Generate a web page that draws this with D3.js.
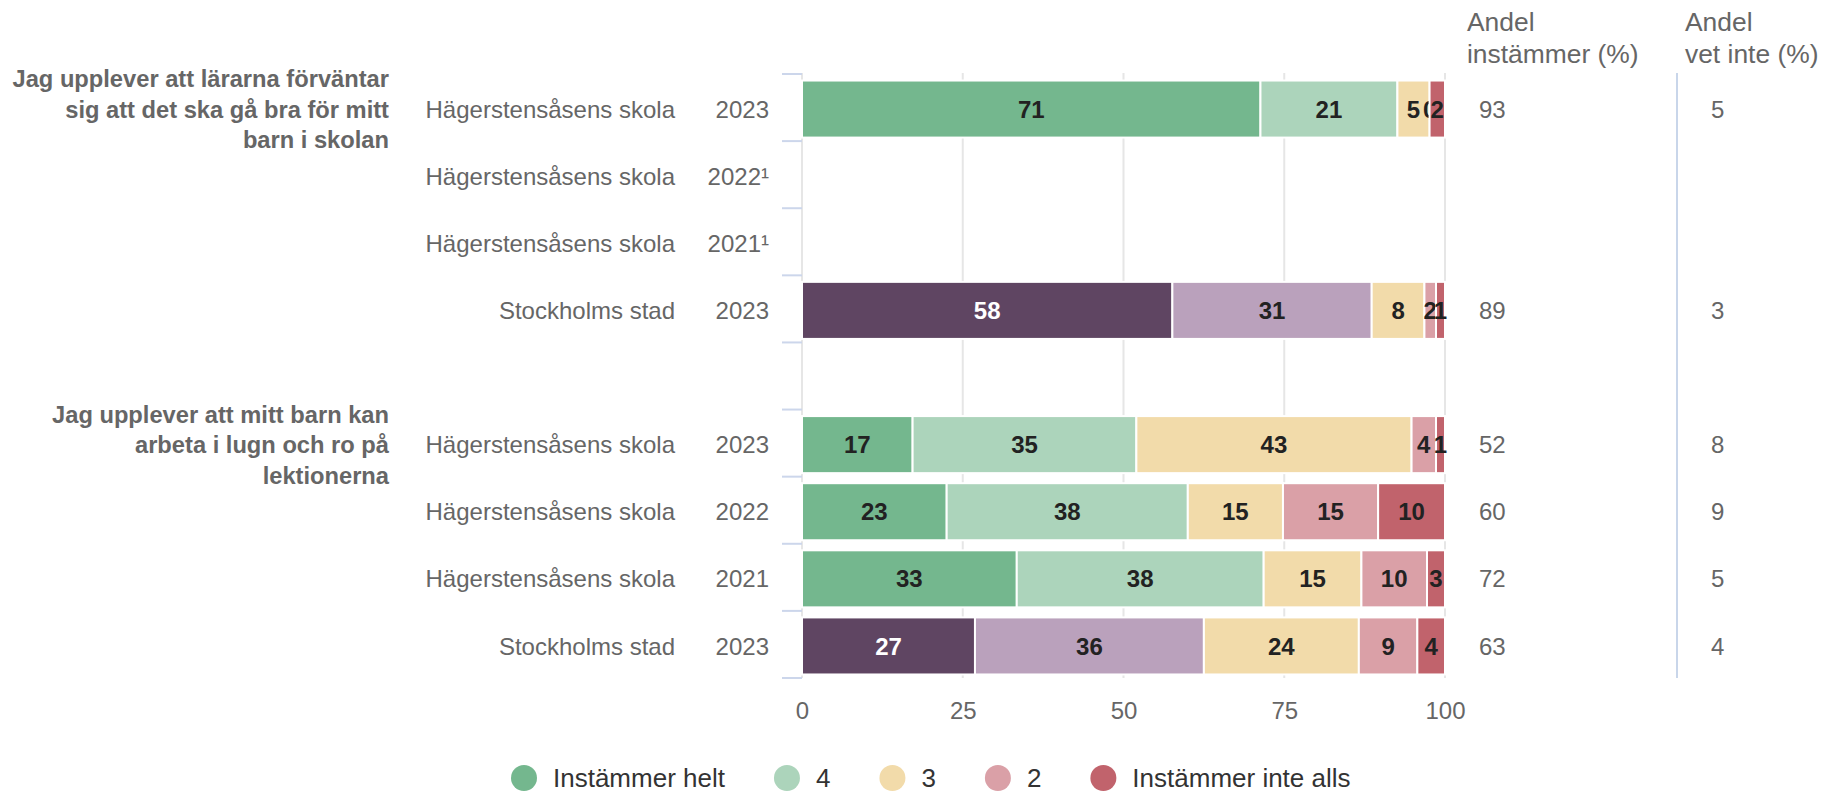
<!DOCTYPE html>
<html><head><meta charset="utf-8">
<script src="https://cdn.jsdelivr.net/npm/d3@7"></script>
<style>
body{margin:0;background:#fff}
svg{display:block}
text{font-family:"Liberation Sans",Arial,Helvetica,sans-serif}
</style>
</head><body>
<svg id="chart" width="1838" height="793"></svg>
<script>
// ---------- DATA ----------
const rowIds = ["q1_h2023","q1_h2022","q1_h2021","q1_sth","gap","q2_h2023","q2_h2022","q2_h2021","q2_sth"];
const unitLabels = ["Hägerstensåsens skola","Hägerstensåsens skola","Hägerstensåsens skola","Stockholms stad","","Hägerstensåsens skola","Hägerstensåsens skola","Hägerstensåsens skola","Stockholms stad"];
const yearLabels = ["2023","2022¹","2021¹","2023","","2023","2022","2021","2023"];
const isCity = [false,false,false,true,false,false,false,false,true];
const seriesNames = ["Instämmer helt","4","3","2","Instämmer inte alls"];
const instammerHelt = [71.3,null,null,57.6,null,17.2,22.5,33.4,26.9];
const svar4 = [21.3,null,null,31.0,null,34.8,37.5,38.4,35.6];
const svar3 = [5.0,null,null,8.2,null,42.8,14.8,15.2,24.1];
const svar2 = [0,null,null,1.8,null,3.8,14.8,10.2,9.1];
const instammerInteAlls = [2.4,null,null,1.4,null,1.4,10.4,2.8,4.3];
const andelInstammer = ["93","","","89","","52","60","72","63"];
const andelVetInte = ["5","","","3","","8","9","5","4"];
const questionRows = ["q1_h2023","q2_h2023"];
const questionLines = [
  ["Jag upplever att lärarna förväntar","sig att det ska gå bra för mitt","barn i skolan"],
  ["Jag upplever att mitt barn kan","arbeta i lugn och ro på","lektionerna"]
];
const xTickValues = [0,25,50,75,100];
const colHeader1 = ["Andel","instämmer (%)"];
const colHeader2 = ["Andel","vet inte (%)"];

// ---------- STYLE ----------
const schoolColors = ["#74b78e","#acd4bb","#f2dbaa","#daa0a7","#c1636c"];
const cityColors   = ["#5f4562","#baa1bc","#f2dbaa","#daa0a7","#c1636c"];
const grey = "#666666";

const svg = d3.select("#chart");
const x = d3.scaleLinear().domain([0,100]).range([802,1445]);
const y = d3.scaleBand().domain(rowIds).range([74,678]).paddingInner(0.15).paddingOuter(0.075);
const step = y.step();
const bandTop = id => y(id) - step*0.075;

// rows data
const seriesArrays = [instammerHelt, svar4, svar3, svar2, instammerInteAlls];
const rows = rowIds.map((id,i)=>{
  const o = {id, i, city:isCity[i]};
  seriesNames.forEach((s,k)=>{ o[s] = seriesArrays[k][i]; });
  return o;
});
const stacked = d3.stack().keys(seriesNames).value((d,k)=> d[k]==null?0:d[k])(rows);

// gridlines
const gTop = 73, gBot = 678;
svg.append("g").selectAll("line").data(xTickValues).join("line")
  .attr("x1",d=>x(d)).attr("x2",d=>x(d)).attr("y1",gTop).attr("y2",gBot)
  .attr("stroke","#e6e6e6").attr("stroke-width",2);

// category ticks (between categories)
const tickYs = rowIds.map(id=>bandTop(id)).concat([bandTop(rowIds[rowIds.length-1])+step]);
svg.append("g").selectAll("line").data(tickYs).join("line")
  .attr("x1",782).attr("x2",802).attr("y1",d=>d).attr("y2",d=>d)
  .attr("stroke","#ccd6eb").attr("stroke-width",2);

// bars
const barOff = 1.5;
const layers = svg.append("g").selectAll("g").data(stacked).join("g");
layers.each(function(layer, k){
  const g = d3.select(this);
  const pts = layer.filter(p=>p.data[seriesNames[k]]!=null);
  g.selectAll("rect").data(pts).join("rect")
    .attr("x",p=>x(p[0])).attr("width",p=>Math.max(0,x(p[1])-x(p[0])))
    .attr("y",p=>y(p.data.id)+barOff).attr("height",y.bandwidth())
    .attr("fill",p=> p.data.city ? cityColors[k] : schoolColors[k])
    .attr("stroke","#fff").attr("stroke-width",2);
});
// data labels
layers.each(function(layer,k){
  const g = d3.select(this);
  const pts = layer.filter(p=>p.data[seriesNames[k]]!=null);
  g.selectAll("text").data(pts).join("text")
    .attr("x",p=>(x(p[0])+x(p[1]))/2)
    .attr("y",p=>y(p.data.id)+barOff+y.bandwidth()/2)
    .attr("dy","0.36em")
    .attr("text-anchor","middle")
    .attr("font-size",24).attr("font-weight","bold")
    .attr("fill",p=> (p.data.city && k===0) ? "#ffffff" : "#222222")
    .text(p=>Math.round(p.data[seriesNames[k]]));
});

// category labels
const rowCenter = id => y(id)+barOff+y.bandwidth()/2;
svg.append("g").selectAll("text").data(rowIds).join("text")
  .attr("x",675).attr("y",d=>rowCenter(d)).attr("dy","0.36em")
  .attr("text-anchor","end").attr("font-size",24).attr("fill",grey)
  .text((d,i)=>unitLabels[i]);
svg.append("g").selectAll("text").data(rowIds).join("text")
  .attr("x",769).attr("y",d=>rowCenter(d)).attr("dy","0.36em")
  .attr("text-anchor","end").attr("font-size",24).attr("fill",grey)
  .text((d,i)=>yearLabels[i]);

// question labels
questionRows.forEach((id,qi)=>{
  const t = svg.append("text").attr("text-anchor","end").attr("font-size",23.7)
    .attr("font-weight","bold").attr("fill",grey);
  const lines = questionLines[qi];
  lines.forEach((ln,li)=>{
    t.append("tspan").attr("x",389)
     .attr("y",rowCenter(id) + (li-(lines.length-1)/2)*30.5)
     .attr("dy","0.36em").text(ln);
  });
});

// x axis
const xAxis = d3.axisBottom(x).tickValues(xTickValues).tickSize(0).tickPadding(0);
const ax = svg.append("g").attr("transform","translate(0,702)").call(xAxis);
ax.select(".domain").remove();
ax.selectAll("text").attr("font-size",24).attr("fill",grey)
  .attr("font-family","'Liberation Sans',Arial,sans-serif").attr("dy","0.71em");

// right columns
svg.append("line").attr("x1",1677).attr("x2",1677).attr("y1",gTop).attr("y2",gBot)
  .attr("stroke","#c9d6ea").attr("stroke-width",2);
[[colHeader1,1467],[colHeader2,1685]].forEach(([lines,hx])=>{
  svg.append("g").selectAll("text").data(lines).join("text")
    .attr("x",hx).attr("y",(d,i)=>31+i*32).attr("font-size",26.4).attr("fill",grey).text(d=>d);
});
svg.append("g").selectAll("text").data(rowIds).join("text")
  .attr("x",1479).attr("y",d=>rowCenter(d)).attr("dy","0.36em")
  .attr("font-size",24).attr("fill",grey).text((d,i)=>andelInstammer[i]);
svg.append("g").selectAll("text").data(rowIds).join("text")
  .attr("x",1711).attr("y",d=>rowCenter(d)).attr("dy","0.36em")
  .attr("font-size",24).attr("fill",grey).text((d,i)=>andelVetInte[i]);

// legend
const lg = svg.append("g");
let lx = 524;
const ly = 778;
seriesNames.forEach((name,k)=>{
  lg.append("circle").attr("cx",lx).attr("cy",ly).attr("r",13).attr("fill",schoolColors[k]);
  const t = lg.append("text").attr("x",lx+29).attr("y",ly).attr("dy","0.36em")
    .attr("font-size",26).attr("fill","#333333").text(name);
  const w = t.node().getComputedTextLength();
  lx = lx + 29 + w + 62;
});
</script>
</body></html>
